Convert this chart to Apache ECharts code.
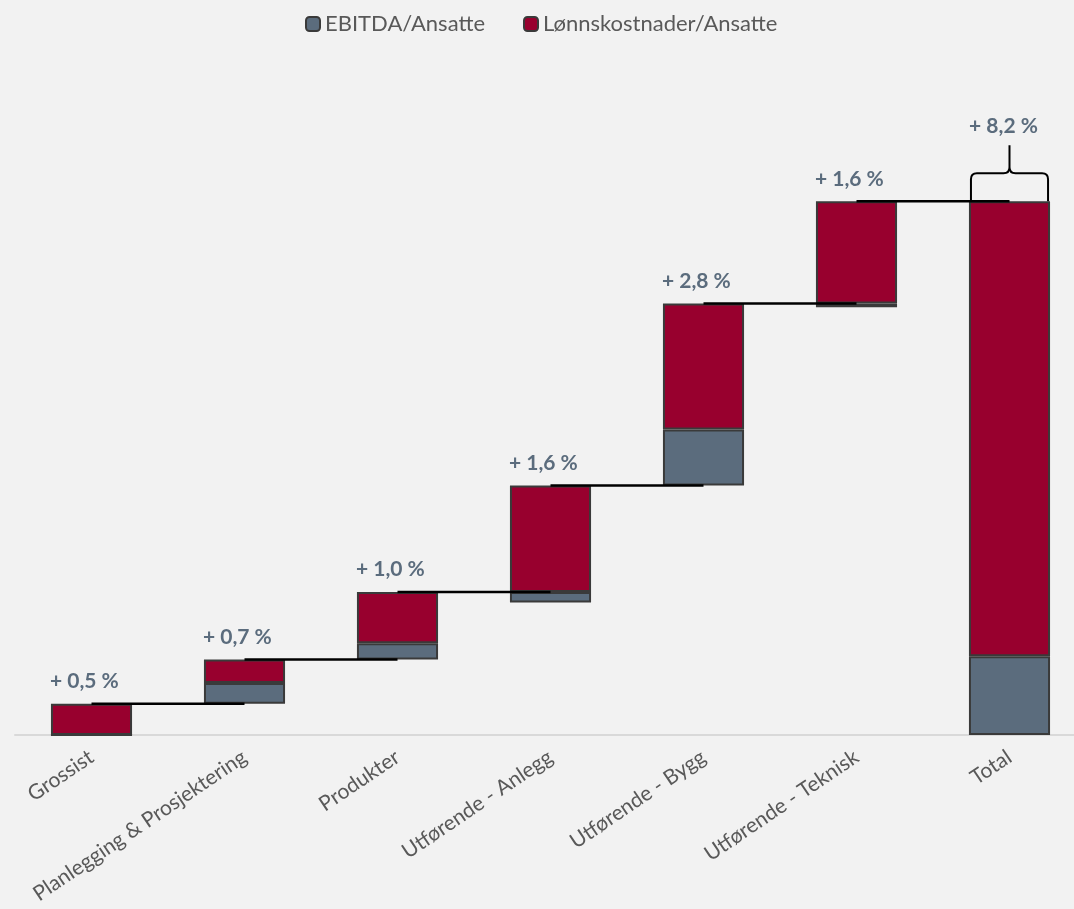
<!DOCTYPE html>
<html>
<head>
<meta charset="utf-8">
<style>
  html, body { margin: 0; padding: 0; background: #f2f2f2; overflow: hidden; }
  #chart { width: 1086px; height: 909px; }
</style>
<script src="https://cdn.jsdelivr.net/npm/echarts@6/dist/echarts.min.js"></script>
</head>
<body>
<div id="chart"></div>
<script>
// Segment categories and the per-employee growth contributions (percentage points)
const categories = ['Grossist', 'Planlegging & Prosjektering', 'Produkter', 'Utførende - Anlegg', 'Utførende - Bygg', 'Utførende - Teknisk'];
const totalLabel = 'Total';
const ebitdaValues = [0.00, 0.32, 0.25, -0.16, 0.86, -0.06];
const lonnValues = [0.48, 0.36, 0.79, 1.80, 1.94, 1.63];

const GREY = '#5b6c7d';
const RED = '#98002e';
const EDGE = '#3a3a3a';
const FONT = 'Lato, "Open Sans", sans-serif';

// Build waterfall stacks: invisible base, EBITDA block, wage block
const axisCats = categories.concat([totalLabel]);
const base = [], greyBar = [], redBar = [], tops = [], steps = [];
let level = 0;
for (let i = 0; i < categories.length; i++) {
  const e = ebitdaValues[i], l = lonnValues[i];
  if (e >= 0) {
    base.push(level); greyBar.push(e); redBar.push(l);
  } else {
    base.push(level + e); greyBar.push(-e); redBar.push(l + e);
  }
  steps.push(e + l);
  level += e + l;
  tops.push(level);
}
const sumE = ebitdaValues.reduce((a, b) => a + b, 0);
const sumL = lonnValues.reduce((a, b) => a + b, 0);
base.push(0); greyBar.push(sumE); redBar.push(sumL);
const grandTotal = sumE + sumL;

const fmt = v => '+ ' + v.toFixed(1).replace('.', ',') + ' %';

// Connector segments: from the centre of bar i to the centre of bar i+1 at the running level
const connectorData = tops.map((t, i) => [i, t]);

const chart = echarts.init(document.getElementById('chart'), null, { renderer: 'canvas' });
chart.setOption({
  backgroundColor: '#f2f2f2',
  animation: false,
  legend: {
    top: 8,
    left: 300,
    itemWidth: 14,
    itemHeight: 14,
    itemGap: 38,
    data: ['EBITDA/Ansatte', 'Lønnskostnader/Ansatte'],
    textStyle: { fontFamily: FONT, fontSize: 22, color: '#595959' }
  },
  grid: { left: 15, right: 0, top: 85, bottom: 174 },
  xAxis: {
    type: 'category',
    data: axisCats,
    axisLine: { lineStyle: { color: '#d9d9d9', width: 2 } },
    axisTick: { show: false },
    axisLabel: {
      interval: 0,
      rotate: 34,
      margin: 20,
      fontFamily: FONT,
      fontSize: 21,
      color: '#595959'
    }
  },
  yAxis: {
    type: 'value',
    min: 0,
    max: 10,
    show: false,
    splitLine: { show: false }
  },
  series: [
    {
      name: 'base',
      type: 'bar',
      stack: 'wf',
      barWidth: '53%',
      silent: true,
      itemStyle: { color: 'rgba(0,0,0,0)' },
      data: base
    },
    {
      name: 'EBITDA/Ansatte',
      type: 'bar',
      stack: 'wf',
      itemStyle: { color: GREY, borderColor: EDGE, borderWidth: 2 },
      data: greyBar
    },
    {
      name: 'Lønnskostnader/Ansatte',
      type: 'bar',
      stack: 'wf',
      itemStyle: { color: RED, borderColor: EDGE, borderWidth: 2 },
      label: {
        show: true,
        position: [-1, -33],
        align: 'left',
        verticalAlign: 'top',
        fontFamily: FONT,
        fontSize: 21,
        fontWeight: 'bold',
        color: '#5b6c7d',
        formatter: p => p.dataIndex < steps.length ? fmt(steps[p.dataIndex]) : ''
      },
      data: redBar
    },
    {
      name: 'connectors',
      type: 'custom',
      z: 5,
      silent: true,
      data: connectorData,
      renderItem: function (params, api) {
        const i = api.value(0), v = api.value(1);
        const a = api.coord([i, v]);
        const b = api.coord([i + 1, v]);
        return {
          type: 'line',
          shape: { x1: a[0], y1: a[1], x2: b[0], y2: b[1] },
          style: { stroke: '#000', lineWidth: 2.5 }
        };
      }
    },
    {
      name: 'brace',
      type: 'custom',
      z: 5,
      silent: true,
      data: [[categories.length, grandTotal]],
      renderItem: function (params, api) {
        const p = api.coord([api.value(0), api.value(1)]);
        const band = api.size([1, 0])[0];
        const half = band * 0.53 / 2 - 2;
        const cx = p[0], yb = p[1];
        const x0 = cx - half, x1 = cx + half;
        const yh = yb - 28, yp = yb - 56;
        const r = 6;
        const path =
          'M' + x0 + ' ' + yb +
          ' L' + x0 + ' ' + (yh + r) +
          ' Q' + x0 + ' ' + yh + ' ' + (x0 + r) + ' ' + yh +
          ' L' + (cx - r) + ' ' + yh +
          ' Q' + cx + ' ' + yh + ' ' + cx + ' ' + (yh - r) +
          ' L' + cx + ' ' + yp +
          ' M' + cx + ' ' + (yh - r) +
          ' Q' + cx + ' ' + yh + ' ' + (cx + r) + ' ' + yh +
          ' L' + (x1 - r) + ' ' + yh +
          ' Q' + x1 + ' ' + yh + ' ' + x1 + ' ' + (yh + r) +
          ' L' + x1 + ' ' + yb;
        return {
          type: 'group',
          children: [
            {
              type: 'path',
              shape: { pathData: path },
              style: { stroke: '#000', lineWidth: 2, fill: null }
            },
            {
              type: 'text',
              style: {
                text: fmt(grandTotal),
                x: cx - 6,
                y: yp - 19,
                align: 'center',
                verticalAlign: 'middle',
                font: 'bold 21px ' + FONT,
                fill: '#5b6c7d'
              }
            }
          ]
        };
      }
    }
  ]
});
</script>
</body>
</html>
